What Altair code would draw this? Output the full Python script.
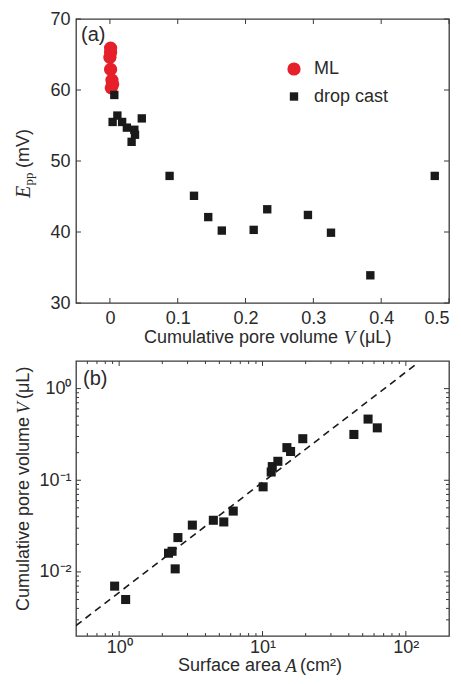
import altair as alt
import pandas as pd

# ---------------- data ----------------
# Panel (a): E_pp vs cumulative pore volume
ml_v = [0.001, 0.001, 0.0, 0.001, 0.003, 0.004, 0.002]
ml_e = [65.9, 65.3, 64.6, 62.9, 61.4, 60.8, 60.3]
dc_v = [0.0065, 0.004, 0.011, 0.018, 0.025, 0.036, 0.037, 0.032, 0.047, 0.088,
        0.124, 0.145, 0.165, 0.212, 0.232, 0.292, 0.326, 0.384, 0.479]
dc_e = [59.3, 55.5, 56.4, 55.5, 54.7, 54.4, 53.7, 52.7, 56.0, 47.9,
        45.1, 42.1, 40.2, 40.3, 43.2, 42.4, 39.9, 33.9, 47.9]
series_names = ["ML", "drop cast"]

# Panel (b): cumulative pore volume vs surface area
area = [0.93, 1.11, 2.21, 2.34, 2.46, 2.57, 3.24, 4.54, 5.37, 6.25,
        10.1, 11.5, 11.7, 12.8, 14.8, 15.7, 19.1, 43.4, 54.5, 63.2]
vol = [0.0070, 0.0050, 0.0160, 0.0168, 0.0108, 0.0237, 0.0324, 0.0366, 0.0351, 0.0461,
       0.0848, 0.123, 0.141, 0.161, 0.227, 0.206, 0.284, 0.316, 0.465, 0.373]
fit_a = [0.5, 121.0]
fit_v = [0.0026, 1.9]

# tick values
a_xticks = [0, 0.1, 0.2, 0.3, 0.4, 0.5]
a_yticks = [30, 40, 50, 60, 70]
b_xmajor = [1, 10, 100]
b_xminor = [0.6, 0.7, 0.8, 0.9, 2, 3, 4, 5, 6, 7, 8, 9, 20, 30, 40, 50, 60, 70, 80, 90]
b_ymajor = [0.01, 0.1, 1]
b_yminor = [0.003, 0.004, 0.005, 0.006, 0.007, 0.008, 0.009,
            0.02, 0.03, 0.04, 0.05, 0.06, 0.07, 0.08, 0.09,
            0.2, 0.3, 0.4, 0.5, 0.6, 0.7, 0.8, 0.9]

# ---------------- style ----------------
W = 373
HA = 284
HB = 275
RED = "#e5202a"
BLACK = "#1a1a1a"
FRAME = "#3a3a3a"
TXT = "#2a2a2a"
SANS = "Liberation Sans"
SERIF = "Liberation Serif"
FS = 18

axis_common = dict(ticks=False, domain=False, grid=False, labelFontSize=FS,
                   labelFont=SANS, labelColor=TXT, labelOverlap=False, title=None)

# ---------------- panel (a) ----------------
df_a = pd.DataFrame({
    "v": dc_v + ml_v,
    "e": dc_e + ml_e,
    "series": ["drop cast"] * len(dc_v) + ["ML"] * len(ml_v),
})
xs_a = alt.Scale(domain=[-0.05, 0.5], nice=False, zero=False)
ys_a = alt.Scale(domain=[30, 70], nice=False, zero=False)
ax_a_x = alt.Axis(values=a_xticks, format="~g", labelFlush=True, labelPadding=6, **axis_common)
ax_a_y = alt.Axis(values=a_yticks, labelFlush=False, labelPadding=6, **axis_common)

pts_a = alt.Chart(df_a).mark_point(filled=True, opacity=1, strokeWidth=0).encode(
    x=alt.X("v:Q", scale=xs_a, axis=ax_a_x),
    y=alt.Y("e:Q", scale=ys_a, axis=ax_a_y),
    color=alt.Color("series:N", scale=alt.Scale(domain=series_names, range=[RED, BLACK]),
                    legend=alt.Legend(title=None, orient="none", legendX=209, legendY=41,
                                      labelFontSize=FS, labelFont=SANS, labelColor=TXT,
                                      labelOffset=11, rowPadding=9.5, padding=0,
                                      symbolStrokeWidth=0)),
    shape=alt.Shape("series:N", scale=alt.Scale(domain=series_names, range=["circle", "square"])),
    size=alt.Size("series:N", scale=alt.Scale(domain=series_names, range=[175, 70])),
    order=alt.Order("series:N", sort="ascending"),
)


def xticks_layer(vals, field, scale, axis, h, length):
    d = pd.DataFrame({field: vals})
    bot = alt.Chart(d).mark_rule(color=FRAME, strokeWidth=1).encode(
        x=alt.X(f"{field}:Q", scale=scale, axis=axis), y=alt.value(h), y2=alt.value(h - length))
    top = alt.Chart(d).mark_rule(color=FRAME, strokeWidth=1).encode(
        x=alt.X(f"{field}:Q", scale=scale, axis=axis), y=alt.value(0), y2=alt.value(length))
    return [bot, top]


def yticks_layer(vals, field, scale, axis, w, length):
    d = pd.DataFrame({field: vals})
    left = alt.Chart(d).mark_rule(color=FRAME, strokeWidth=1).encode(
        y=alt.Y(f"{field}:Q", scale=scale, axis=axis), x=alt.value(0), x2=alt.value(length))
    right = alt.Chart(d).mark_rule(color=FRAME, strokeWidth=1).encode(
        y=alt.Y(f"{field}:Q", scale=scale, axis=axis), x=alt.value(w), x2=alt.value(w - length))
    return [left, right]


def txt(s, x, y, size=FS, font=SANS, style="normal", align="center", angle=0, baseline="middle"):
    kw = dict(text=s, font=font, fontSize=size, fontStyle=style, align=align,
              baseline=baseline, color=TXT)
    if angle:
        kw["angle"] = angle
    return alt.Chart(pd.DataFrame({"k": [0]})).mark_text(**kw).encode(
        x=alt.value(x), y=alt.value(y))


titles_a = [
    txt("Cumulative pore volume", 262, 319, align="right"),
    txt("V", 273.5, 319, size=19, font=SERIF, style="italic"),
    txt("(μL)", 283, 319, align="left"),
    txt("E", -52, 173, size=20, font=SERIF, style="italic", angle=270),
    txt("pp", -47, 160, size=13, font=SERIF, angle=270),
    txt("(mV)", -52, 149, align="left", angle=270),
    txt("(a)", 5, 16, size=20, align="left"),
]

panel_a = alt.layer(
    *xticks_layer(a_xticks, "v", xs_a, ax_a_x, HA, 5),
    *yticks_layer(a_yticks, "e", ys_a, ax_a_y, W, 5),
    pts_a,
    *titles_a,
).properties(width=W, height=HA)

# ---------------- panel (b) ----------------
xs_b = alt.Scale(type="log", domain=[0.5, 200], nice=False)
ys_b = alt.Scale(type="log", domain=[0.002, 2], nice=False)
ax_b_x = alt.Axis(values=b_xmajor, labelFlush=False, labelPadding=2,
                  labelExpr="datum.value >= 50 ? '10²' : datum.value >= 5 ? '10¹' : '10⁰'",
                  **axis_common)
ax_b_y = alt.Axis(values=b_ymajor, labelFlush=False, labelPadding=5,
                  labelExpr="datum.value >= 0.5 ? '10⁰' : datum.value >= 0.05 ? '10⁻¹' : '10⁻²'",
                  **axis_common)

df_b = pd.DataFrame({"a": area, "vv": vol})
df_fit = pd.DataFrame({"a": fit_a, "vv": fit_v})

pts_b = alt.Chart(df_b).mark_point(filled=True, opacity=1, strokeWidth=0, shape="square",
                                   size=82, color=BLACK).encode(
    x=alt.X("a:Q", scale=xs_b, axis=ax_b_x),
    y=alt.Y("vv:Q", scale=ys_b, axis=ax_b_y),
)

fit_line = alt.Chart(df_fit).mark_line(color=BLACK, strokeWidth=1.6, strokeDash=[7, 5], clip=True).encode(
    x=alt.X("a:Q", scale=xs_b, axis=ax_b_x),
    y=alt.Y("vv:Q", scale=ys_b, axis=ax_b_y),
)

titles_b = [
    txt("Surface area", 205, 305, align="right"),
    txt("A", 215, 305, size=19, font=SERIF, style="italic"),
    txt("(cm²)", 224, 305, align="left"),
    txt("Cumulative pore volume", -52, 56, align="right", angle=270),
    txt("V", -52, 47, size=19, font=SERIF, style="italic", angle=270),
    txt("(μL)", -52, 38, align="left", angle=270),
    txt("(b)", 7, 18, size=20, align="left"),
]

panel_b = alt.layer(
    *xticks_layer(b_xmajor, "a", xs_b, ax_b_x, HB, 5),
    *xticks_layer(b_xminor, "a", xs_b, ax_b_x, HB, 3),
    *yticks_layer(b_ymajor, "vv", ys_b, ax_b_y, W, 5),
    *yticks_layer(b_yminor, "vv", ys_b, ax_b_y, W, 3),
    fit_line,
    pts_b,
    *titles_b,
).properties(width=W, height=HB)

chart = alt.vconcat(panel_a, panel_b, spacing=10).properties(
    padding={"left": 5, "top": 1, "right": 0, "bottom": 0}
).configure_view(stroke=FRAME, strokeWidth=1.3)

chart.save("out.html", embed_options={"renderer": "svg", "actions": False})
